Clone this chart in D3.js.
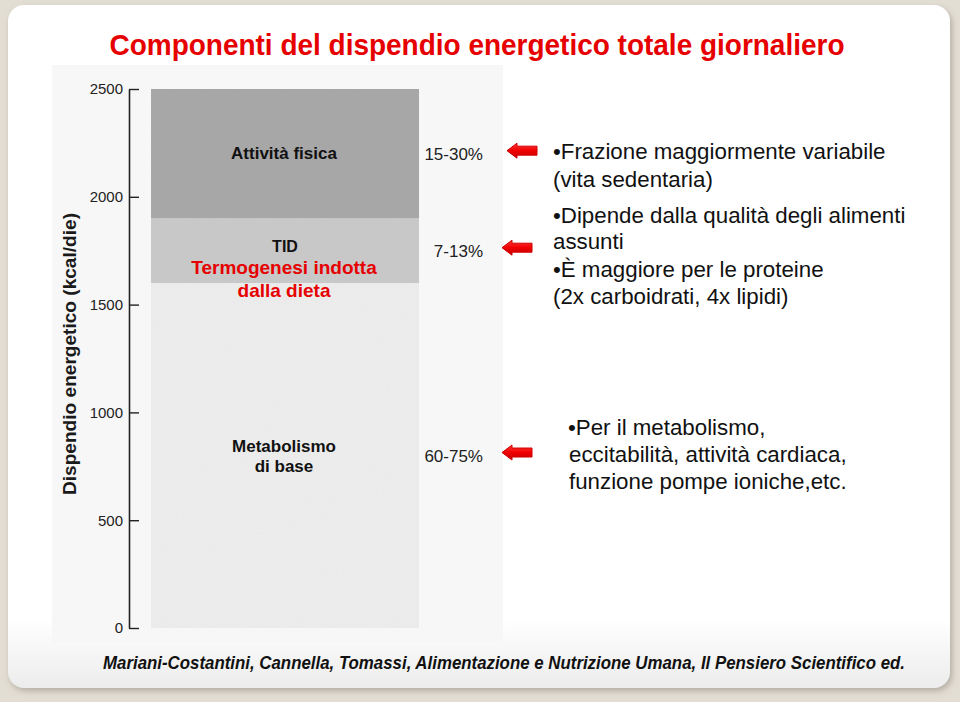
<!DOCTYPE html>
<html><head><meta charset="utf-8">
<script src="https://cdn.jsdelivr.net/npm/d3@7"></script>
<style>html,body{margin:0;padding:0;background:#e3ded4;}svg{display:block;}</style>
</head><body>
<script>
// ---- data ----
const components = ["Metabolismo di base", "TID", "Attività fisica"];
const componentValues = [1600, 300, 600];           // kcal/die, stacked
const percentLabels = ["60-75%", "7-13%", "15-30%"];
const bandColors = ["#eeeeee", "#c9c9c9", "#a6a6a6"];
const yTicks = [0, 500, 1000, 1500, 2000, 2500];
const notes = [
  ["•Per il metabolismo,", "eccitabilità, attività cardiaca,", "funzione pompe ioniche,etc."],
  ["•Dipende dalla qualità degli alimenti", "assunti", "•È maggiore per le proteine", "(2x carboidrati, 4x lipidi)"],
  ["•Frazione maggiormente variabile", "(vita sedentaria)"]
];
const title = "Componenti del dispendio energetico totale giornaliero";
const source = "Mariani-Costantini, Cannella, Tomassi, Alimentazione e Nutrizione Umana, Il Pensiero Scientifico ed.";
const yLabel = "Dispendio energetico (kcal/die)";

// ---- layout ----
const W = 960, H = 702;
const svg = d3.select("body").append("svg").attr("width", W).attr("height", H);
const defs = svg.append("defs");
const sh = defs.append("filter").attr("id","shadow").attr("x","-5%").attr("y","-5%").attr("width","110%").attr("height","110%");
sh.append("feDropShadow").attr("dx",2).attr("dy",3).attr("stdDeviation",3).attr("flood-color","#8a8478").attr("flood-opacity",0.55);
const g1 = defs.append("linearGradient").attr("id","slideGrad").attr("x1",0).attr("y1",0).attr("x2",0).attr("y2",1);
g1.append("stop").attr("offset","0%").attr("stop-color","#ffffff");
g1.append("stop").attr("offset","90%").attr("stop-color","#ffffff");
g1.append("stop").attr("offset","100%").attr("stop-color","#ececec");
const ag = defs.append("linearGradient").attr("id","arrowGrad").attr("x1",0).attr("y1",0).attr("x2",0).attr("y2",1);
ag.append("stop").attr("offset","0%").attr("stop-color","#ff3a3a");
ag.append("stop").attr("offset","50%").attr("stop-color","#f00000");
ag.append("stop").attr("offset","100%").attr("stop-color","#c40000");
const nf = defs.append("filter").attr("id","noise");
nf.append("feTurbulence").attr("type","fractalNoise").attr("baseFrequency",0.9).attr("numOctaves",2).attr("seed",3).attr("result","t");
nf.append("feColorMatrix").attr("in","t").attr("type","matrix")
  .attr("values","0 0 0 0 0.5  0 0 0 0 0.5  0 0 0 0 0.5  0 0 0 0.12 0").attr("result","n");
nf.append("feComposite").attr("in","n").attr("in2","SourceGraphic").attr("operator","in").attr("result","nn");
nf.append("feMerge").call(m=>{m.append("feMergeNode").attr("in","SourceGraphic");m.append("feMergeNode").attr("in","nn");});

// slide
svg.append("rect").attr("x",8).attr("y",5).attr("width",942).attr("height",683).attr("rx",16)
  .attr("fill","url(#slideGrad)").attr("filter","url(#shadow)");

const F = "Liberation Sans, Arial, sans-serif";

// title
svg.append("text").attr("x",477).attr("y",55).attr("text-anchor","middle")
  .attr("font-family",F).attr("font-weight","bold").attr("font-size",30)
  .attr("fill","#e60000").attr("textLength",735).attr("lengthAdjust","spacingAndGlyphs").text(title);

// scan area
svg.append("rect").attr("x",52).attr("y",65).attr("width",451).attr("height",578).attr("fill","#f7f7f7");

// scales
const y = d3.scaleLinear().domain([0, 2500]).range([628, 89]);
const barX0 = 151, barX1 = 419;

// stacked bands
let acc = 0;
const bands = componentValues.map((v, i) => { const b = {name: components[i], y0: acc, y1: acc + v, color: bandColors[i], pct: percentLabels[i]}; acc += v; return b; });
svg.append("g").attr("filter","url(#noise)").selectAll("rect").data(bands).join("rect")
  .attr("x", barX0).attr("width", barX1 - barX0)
  .attr("y", d => y(d.y1)).attr("height", d => y(d.y0) - y(d.y1))
  .attr("fill", d => d.color);

// axis
const axis = d3.axisLeft(y).tickValues(yTicks).tickFormat(d3.format("d"))
  .tickSizeInner(-10).tickSizeOuter(0).tickPadding(6);
const ax = svg.append("g").attr("transform","translate(129,0)").call(axis);
ax.select(".domain").attr("stroke","#222").attr("stroke-width",1.6);
ax.selectAll(".tick line").attr("stroke","#222").attr("stroke-width",1.4);
ax.selectAll(".tick text").attr("font-family",F).attr("font-size",15)
  .attr("fill","#222").attr("font-weight","500");

// y label
svg.append("text").attr("transform","translate(76,354) rotate(-90)").attr("text-anchor","middle")
  .attr("font-family",F).attr("font-weight","bold").attr("font-size",17.5)
  .attr("fill","#1a1a1a").attr("textLength",282).attr("lengthAdjust","spacingAndGlyphs").text(yLabel);

const mid = d => y((d.y0 + d.y1) / 2);
const cx = (barX0 + barX1) / 2;

// band labels
const bl = svg.append("g").attr("font-family",F).attr("font-weight","bold").attr("text-anchor","middle").attr("fill","#111");
bl.append("text").attr("x",cx-1).attr("y",mid(bands[0])-4).attr("font-size",17).text("Metabolismo");
bl.append("text").attr("x",cx-1).attr("y",mid(bands[0])+16).attr("font-size",17).text("di base");
bl.append("text").attr("x",cx).attr("y",mid(bands[1])+1).attr("font-size",16).text(bands[1].name);
bl.append("text").attr("x",cx-1).attr("y",mid(bands[2])+5).attr("font-size",17).text(bands[2].name);
// red annotation
bl.append("text").attr("x",cx-1).attr("y",mid(bands[1])+23).attr("font-size",19).attr("fill","#e60000").text("Termogenesi indotta");
bl.append("text").attr("x",cx-1).attr("y",mid(bands[1])+46).attr("font-size",19).attr("fill","#e60000").text("dalla dieta");

// percent labels
svg.append("g").selectAll("text").data(bands).join("text")
  .attr("x",483).attr("y",d => mid(d)+6).attr("text-anchor","end")
  .attr("font-family",F).attr("font-size",17).attr("fill","#222").text(d => d.pct);

// arrows
const arrowX = [502, 502, 507];
const arrowPath = "M0,0 L10,-7.5 L10,-4.5 L30,-4.5 L30,4.5 L10,4.5 L10,7.5 Z";
svg.append("g").selectAll("path").data(bands).join("path")
  .attr("transform",(d,i) => `translate(${arrowX[i]},${mid(d)-3})`)
  .attr("d",arrowPath).attr("fill","url(#arrowGrad)").attr("stroke","#d00000").attr("stroke-width",1).attr("stroke-linejoin","round");

// notes
const noteX = [568, 553, 553];
const noteBase = [[435,462,489],[223,249,277,304],[159,187]];
const ng = svg.append("g").attr("font-family",F).attr("font-size",22.3).attr("fill","#111");
notes.forEach((lines, i) => lines.forEach((t, j) => {
  ng.append("text").attr("x", noteX[i] + (i===0 && j>0 ? 1 : 0)).attr("y", noteBase[i][j]).text(t);
}));

// source
svg.append("text").attr("x",103).attr("y",669)
  .attr("font-family",F).attr("font-weight","bold").attr("font-style","italic").attr("font-size",17.5)
  .attr("fill","#111").attr("textLength",802).attr("lengthAdjust","spacingAndGlyphs").text(source);
</script>
</body></html>
